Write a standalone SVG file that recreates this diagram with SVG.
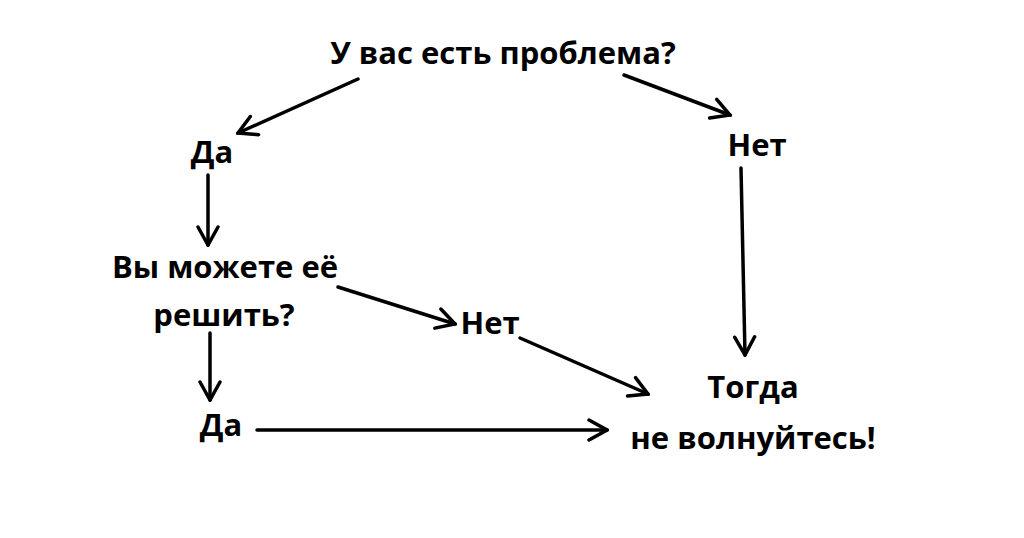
<svg xmlns="http://www.w3.org/2000/svg" width="1024" height="538" viewBox="0 0 1024 538">
<defs>
<marker id="a" viewBox="0 0 24 24" refX="22" refY="12" markerWidth="24" markerHeight="24" markerUnits="userSpaceOnUse" orient="auto">
<path d="M4,2 L22,12 L4,22" fill="none" stroke="#000" stroke-width="3.5" stroke-linecap="round"/>
</marker>
<style>
text{font-family:"Open Sans","Liberation Sans",sans-serif;font-weight:bold;font-size:31px;fill:#000;text-anchor:middle}
line{stroke:#000;stroke-width:3.5;marker-end:url(#a);stroke-linecap:round}
</style>
</defs>
<rect width="1024" height="538" fill="#fff"/>
<g id="q1"><text x="503" y="64">У вас есть проблема?</text></g>
<g id="yes1"><text x="212" y="163">Да</text></g>
<g id="no1"><text x="757" y="156">Нет</text></g>
<g id="q2"><text x="225" y="278">Вы можете её</text><text x="224" y="326">решить?</text></g>
<g id="no2"><text x="490" y="334">Нет</text></g>
<g id="yes2"><text x="221" y="436">Да</text></g>
<g id="end"><text x="753" y="398">Тогда</text><text x="753" y="449">не волнуйтесь!</text></g>
<g id="connectors">
<line x1="358" y1="79" x2="238" y2="133"/>
<line x1="624" y1="75" x2="730" y2="115"/>
<line x1="208" y1="175" x2="208" y2="245"/>
<line x1="741" y1="168" x2="745" y2="355"/>
<line x1="338" y1="287" x2="455" y2="324"/>
<line x1="210" y1="333" x2="210" y2="400"/>
<line x1="520" y1="338" x2="648" y2="394"/>
<line x1="257" y1="430" x2="607" y2="430"/>
</g>
</svg>
